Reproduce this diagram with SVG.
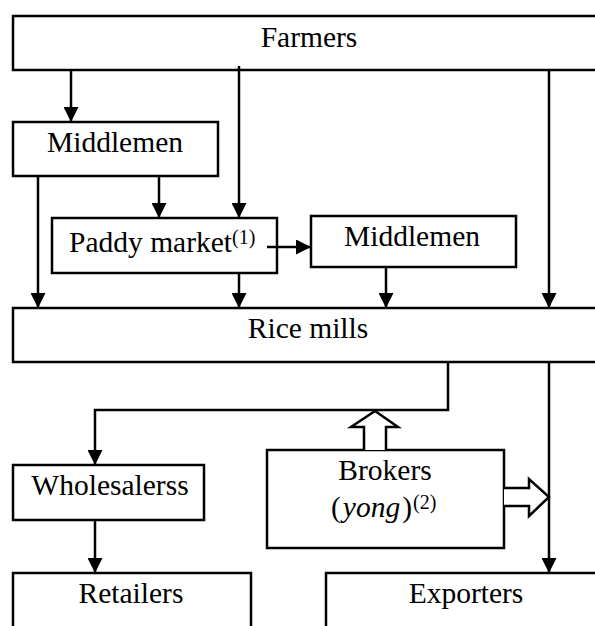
<svg xmlns="http://www.w3.org/2000/svg" width="595" height="626" viewBox="0 0 595 626">
<style>
.box{fill:#fff;stroke:#000;stroke-width:2.5}
.ln{fill:none;stroke:#000;stroke-width:2.5}
.hol{fill:#fff;stroke:#000;stroke-width:2.5;stroke-linejoin:miter}
.c{text-anchor:middle}
.sup{font-size:20px}
</style>
<defs>
<marker id="ah" markerWidth="15" markerHeight="15" viewBox="0 0 15 15" refX="15" refY="7.5" orient="auto" markerUnits="userSpaceOnUse">
<path d="M0,0 L15,7.5 L0,15 Z" fill="#000"/>
</marker>
</defs>
<rect width="595" height="626" fill="#fff"/>
<g font-family="Liberation Serif, Times New Roman, DejaVu Serif, serif" font-size="29.5" fill="#000">
<g id="farmers"><rect class="box" x="13" y="16" width="600" height="54"/><text class="c" x="309" y="47">Farmers</text></g>
<g id="middlemen1"><rect class="box" x="13" y="122" width="205" height="54"/><text class="c" x="115" y="152">Middlemen</text></g>
<g id="paddy"><rect class="box" x="52" y="218" width="225" height="55"/><text x="69" y="252">Paddy market<tspan class="sup" dy="-8">(1)</tspan></text></g>
<g id="middlemen2"><rect class="box" x="311" y="216" width="205" height="51"/><text class="c" x="412" y="246">Middlemen</text></g>
<g id="ricemills"><rect class="box" x="13" y="308" width="600" height="54"/><text class="c" x="308" y="338">Rice mills</text></g>
<g id="wholesalers"><rect class="box" x="13" y="465" width="191" height="55"/><text class="c" x="110" y="495">Wholesalerss</text></g>
<g id="brokers"><rect class="box" x="267" y="450" width="237" height="98"/><text class="c" x="385" y="480">Brokers</text><text x="331" y="517">(<tspan font-style="italic" dx="2">yong</tspan><tspan dx="2">)</tspan><tspan class="sup" dx="1" dy="-8">(2)</tspan></text></g>
<g id="retailers"><rect class="box" x="13" y="573" width="238" height="80"/><text class="c" x="131" y="603">Retailers</text></g>
<g id="exporters"><rect class="box" x="326" y="573" width="300" height="80"/><text class="c" x="466" y="603">Exporters</text></g>
</g>
<g id="connectors">
<line class="ln" x1="71" y1="70" x2="71" y2="122" marker-end="url(#ah)"/>
<line class="ln" x1="239" y1="66" x2="239" y2="218" marker-end="url(#ah)"/>
<line class="ln" x1="549" y1="70" x2="549" y2="308" marker-end="url(#ah)"/>
<line class="ln" x1="159" y1="176" x2="159" y2="218" marker-end="url(#ah)"/>
<line class="ln" x1="38" y1="176" x2="38" y2="308" marker-end="url(#ah)"/>
<line class="ln" x1="267" y1="247" x2="311" y2="247" marker-end="url(#ah)"/>
<line class="ln" x1="239" y1="273" x2="239" y2="308" marker-end="url(#ah)"/>
<line class="ln" x1="386" y1="267" x2="386" y2="308" marker-end="url(#ah)"/>
<polyline class="ln" points="448,362 448,410 95,410 95,465" marker-end="url(#ah)"/>
<line class="ln" x1="95" y1="520" x2="95" y2="573" marker-end="url(#ah)"/>
<line class="ln" x1="549" y1="362" x2="549" y2="573" marker-end="url(#ah)"/>
<path class="hol" d="M364,450 L364,427 L351,427 L375,411 L398,427 L386,427 L386,450"/>
<path class="hol" d="M504,488 L529,488 L529,479 L549,497 L529,516 L529,506 L504,506"/>
</g>
</svg>
